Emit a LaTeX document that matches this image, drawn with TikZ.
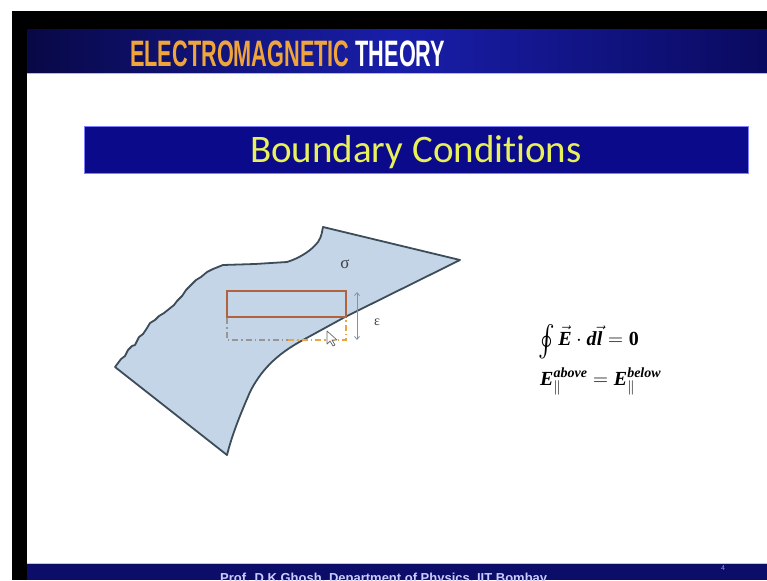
\documentclass[tikz,border=0pt]{standalone}
\usepackage{amsmath}
\usepackage{fontspec}
\setmainfont{Liberation Serif}
\newfontfamily\hdrfont{Liberation Sans}
\newfontfamily\ttlfont[Ligatures=NoCommon]{Carlito}
\usetikzlibrary{arrows.meta}
\definecolor{hdrdark}{RGB}{8,8,70}
\definecolor{hdrmid}{RGB}{25,30,170}
\definecolor{hdrright}{RGB}{10,10,95}
\definecolor{hdrorange}{RGB}{240,165,60}
\definecolor{navybar}{RGB}{10,10,138}
\definecolor{titleyellow}{RGB}{232,240,90}
\definecolor{footblue}{RGB}{12,12,105}
\definecolor{sheetfill}{RGB}{196,213,232}
\definecolor{sheetline}{RGB}{60,76,88}
\definecolor{rectbrown}{RGB}{176,100,62}
\definecolor{dashorange}{RGB}{232,165,70}
\definecolor{dashgray}{RGB}{150,150,150}
\definecolor{epsgray}{RGB}{130,145,170}
\newcommand{\bE}{\textbf{\textit{E}}}
\tikzset{
  sheet/.style={fill=sheetfill, draw=sheetline, line width=1.8pt, line join=round},
  gauss/.style={draw=rectbrown, line width=1.8pt},
  dashlow/.style={line width=1.5pt, dash pattern=on 6pt off 3pt on 1.5pt off 3pt},
  label/.style={inner sep=0pt, text=black!75},
}
\begin{document}
\begin{tikzpicture}[x=1pt,y=-1pt]
\clip (0,0) rectangle (767,580);
\fill[white] (0,0) rectangle (767,580);
% black frame
\fill[black] (12,11) rectangle (767,30);
\fill[black] (12,11) rectangle (27,580);
% header band
\shade[left color=hdrdark, right color=hdrright, middle color=hdrmid] (27,30) rectangle (767,74);
\draw[color=blue!30!white, line width=1pt] (27,74) -- (767,74);
\node[anchor=base west, inner sep=0pt] (hdr) at (130,67)
  {\scalebox{0.62}[1.05]{\hdrfont\bfseries\fontsize{35}{35}\selectfont\color{hdrorange}ELECTROMAGNETIC \color{white}THEORY}};
% footer band
\fill[footblue] (27,563) rectangle (767,580);
\draw[color=blue!25!white, line width=1pt] (27,563) -- (767,563);
\node[anchor=base west, inner sep=0pt, text=white!80!blue] (foot) at (220,582)
  {\hdrfont\bfseries\fontsize{13}{13}\selectfont Prof. D.K.Ghosh, Department of Physics, IIT Bombay};
\node[inner sep=0pt, text=blue!40!white] (pageno) at (723,568) {\hdrfont\fontsize{7}{7}\selectfont 4};
% title bar
\node[fill=navybar, draw=blue!50!white, line width=0.6pt, minimum width=664pt, minimum height=47pt, inner sep=0pt] (titlebar) at (416,149.5) {};
\node[anchor=base, inner sep=0pt, text=titleyellow] (title) at (416,163)
  {\ttlfont\fontsize{39}{39}\selectfont Boundary Conditions};
% the sheet
\draw[sheet] (115,367) -- (121,359) -- (125,356) -- (128,350) -- (132,346) -- (135,345)
  -- (139,337) -- (143,334) -- (147,328) -- (150,323) -- (155,320) -- (159,316)
  -- (164,313) -- (169,309) -- (174,305) -- (177,301) -- (182,296) -- (186,290)
  -- (191,285) -- (196,280) -- (201,277) -- (207,272) -- (213,269) -- (218,267)
  -- (223,265) -- (255,264) -- (287,262)
  .. controls (300,258) and (312,250) .. (318,242)
  .. controls (322,236) and (322,231) .. (323,227)
  -- (460,260) -- (345,317) -- (303,340)
  .. controls (275,355) and (260,372) .. (250,392)
  .. controls (240,415) and (232,435) .. (227,455)
  -- cycle;
% gaussian loop
\coordinate (ul) at (227,291);
\coordinate (lr) at (346,317);
\draw[gauss] (ul) rectangle (lr);
\coordinate (bl) at (227,340);
\coordinate (bm) at (288,340);
\coordinate (br) at (346,340);
\draw[dashlow, dashgray] (227,318) -- (bl) -- (bm);
\draw[dashlow, dashorange] (bm) -- (br) -- (346,318);
% epsilon arrow
\coordinate (et) at (357,292);
\coordinate (eb) at (357,340);
\draw[epsgray, line width=0.8pt, {Straight Barb[length=3pt,width=5pt]}-{Straight Barb[length=3pt,width=5pt]}] (et) -- (eb);
\node[label] (eps) at (377,322) {\fontsize{14}{14}\selectfont ε};
\node[label] (sigma) at (345,264) {\fontsize{17}{17}\selectfont σ};
% cursor
\draw[fill=white, draw=black!60, line width=0.7pt, line join=round] (327,331) -- (327,344) -- (330,341) -- (333,346) -- (335,345) -- (332,340) -- (337,340) -- cycle;
% equations
\node[anchor=base west, inner sep=0pt] (eq1) at (538,345)
  {\fontsize{20}{24}\selectfont $\mathop{\raisebox{-0.25em}{\scalebox{1.2}[1.5]{$\oint$}}} \vec{\bE}\cdot\textbf{\textit{d}}\vec{\textbf{\textit{l}}} = \mathbf{0}$};
\node[anchor=base west, inner sep=0pt] (eq2) at (540,385)
  {\fontsize{20}{24}\selectfont $\bE^{\text{\bfseries\itshape above}}_{\parallel} = \bE^{\text{\bfseries\itshape below}}_{\parallel}$};
\end{tikzpicture}
\end{document}
